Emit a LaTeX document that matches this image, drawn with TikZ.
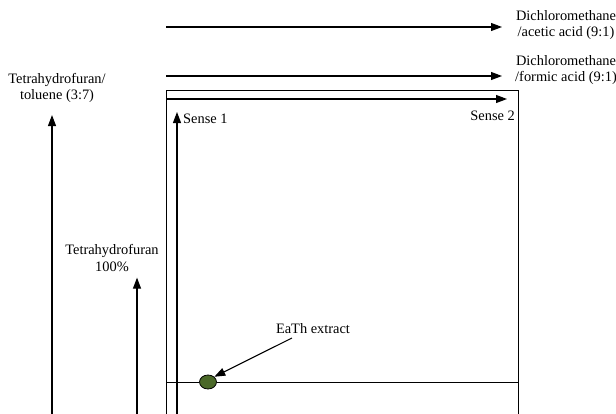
\documentclass[tikz,border=0pt]{standalone}
\usepackage{fontspec}
\setmainfont{Liberation Serif}
\usetikzlibrary{positioning,arrows.meta,shapes.geometric}
\tikzset{
	lbl/.style={inner sep=0pt, align=center, font=\fontsize{14.4}{16.5}\selectfont},
	arr/.style={-{Triangle[length=11pt,width=8pt]}, line width=1.1pt},
	plate/.style={line width=1pt}
}

\begin{document}
\begin{tikzpicture}[x=1pt,y=-1pt]
			\useasboundingbox (0,0) rectangle (616,413);
			\clip (0,0) rectangle (616,413);
			\node[lbl] (DCMa) at (566,25) {Dichloromethane\\/acetic acid (9:1)};
			\node[lbl] (DCMf) at (566,70) {Dichloromethane\\/formic acid (9:1)};
			\node[lbl] (THFt) at (57,88) {Tetrahydrofuran/\\toluene (3:7)};
			\node[lbl] (THF) at (112,258) {Tetrahydrofuran\\100\%};
			\node[lbl, anchor=west] (S1) at (183,119) {Sense 1};
			\node[lbl, anchor=east] (S2) at (515,116) {Sense 2};
			\node[lbl] (ext) at (313,329) {EaTh extract};
			\node[ellipse, draw, line width=0.8pt, fill={rgb,255:red,74;green,104;blue,40},
				minimum width=17pt, minimum height=14pt, inner sep=0pt] (spot) at (208,382) {};
			\coordinate (a1) at (166,27);
			\coordinate (a1e) at (502,27);
			\coordinate (a2) at (166,76);
			\coordinate (a2e) at (502,76);
			\coordinate (a3) at (166,99);
			\coordinate (a3e) at (507,99);
			\coordinate (v1) at (52,420);
			\coordinate (v2) at (137,420);
			\coordinate (v3) at (177,420);
			\coordinate (v3e) at (177,112);
			\coordinate (p1) at (166,90);
			\coordinate (p2) at (518,420);
			\coordinate (b1) at (166,382);
			\coordinate (b2) at (518,382);
			\coordinate (e1) at (292,338);
			\draw[plate] (p1) rectangle (p2);
			\draw[plate] (b1) -- (spot) -- (b2);
			\draw[arr] (a1) -- (a1e);
			\draw[arr] (a2) -- (a2e);
			\draw[arr] (a3) -- (a3e);
			\draw[arr, shorten >=12pt] (v1) -- (v1 |- THFt.south);
			\draw[arr, shorten >=6pt] (v2) -- (v2 |- THF.south);
			\draw[arr] (v3) -- (v3e);
			\draw[arr] (e1) -- (spot.north east);
		\end{tikzpicture}
\end{document}
